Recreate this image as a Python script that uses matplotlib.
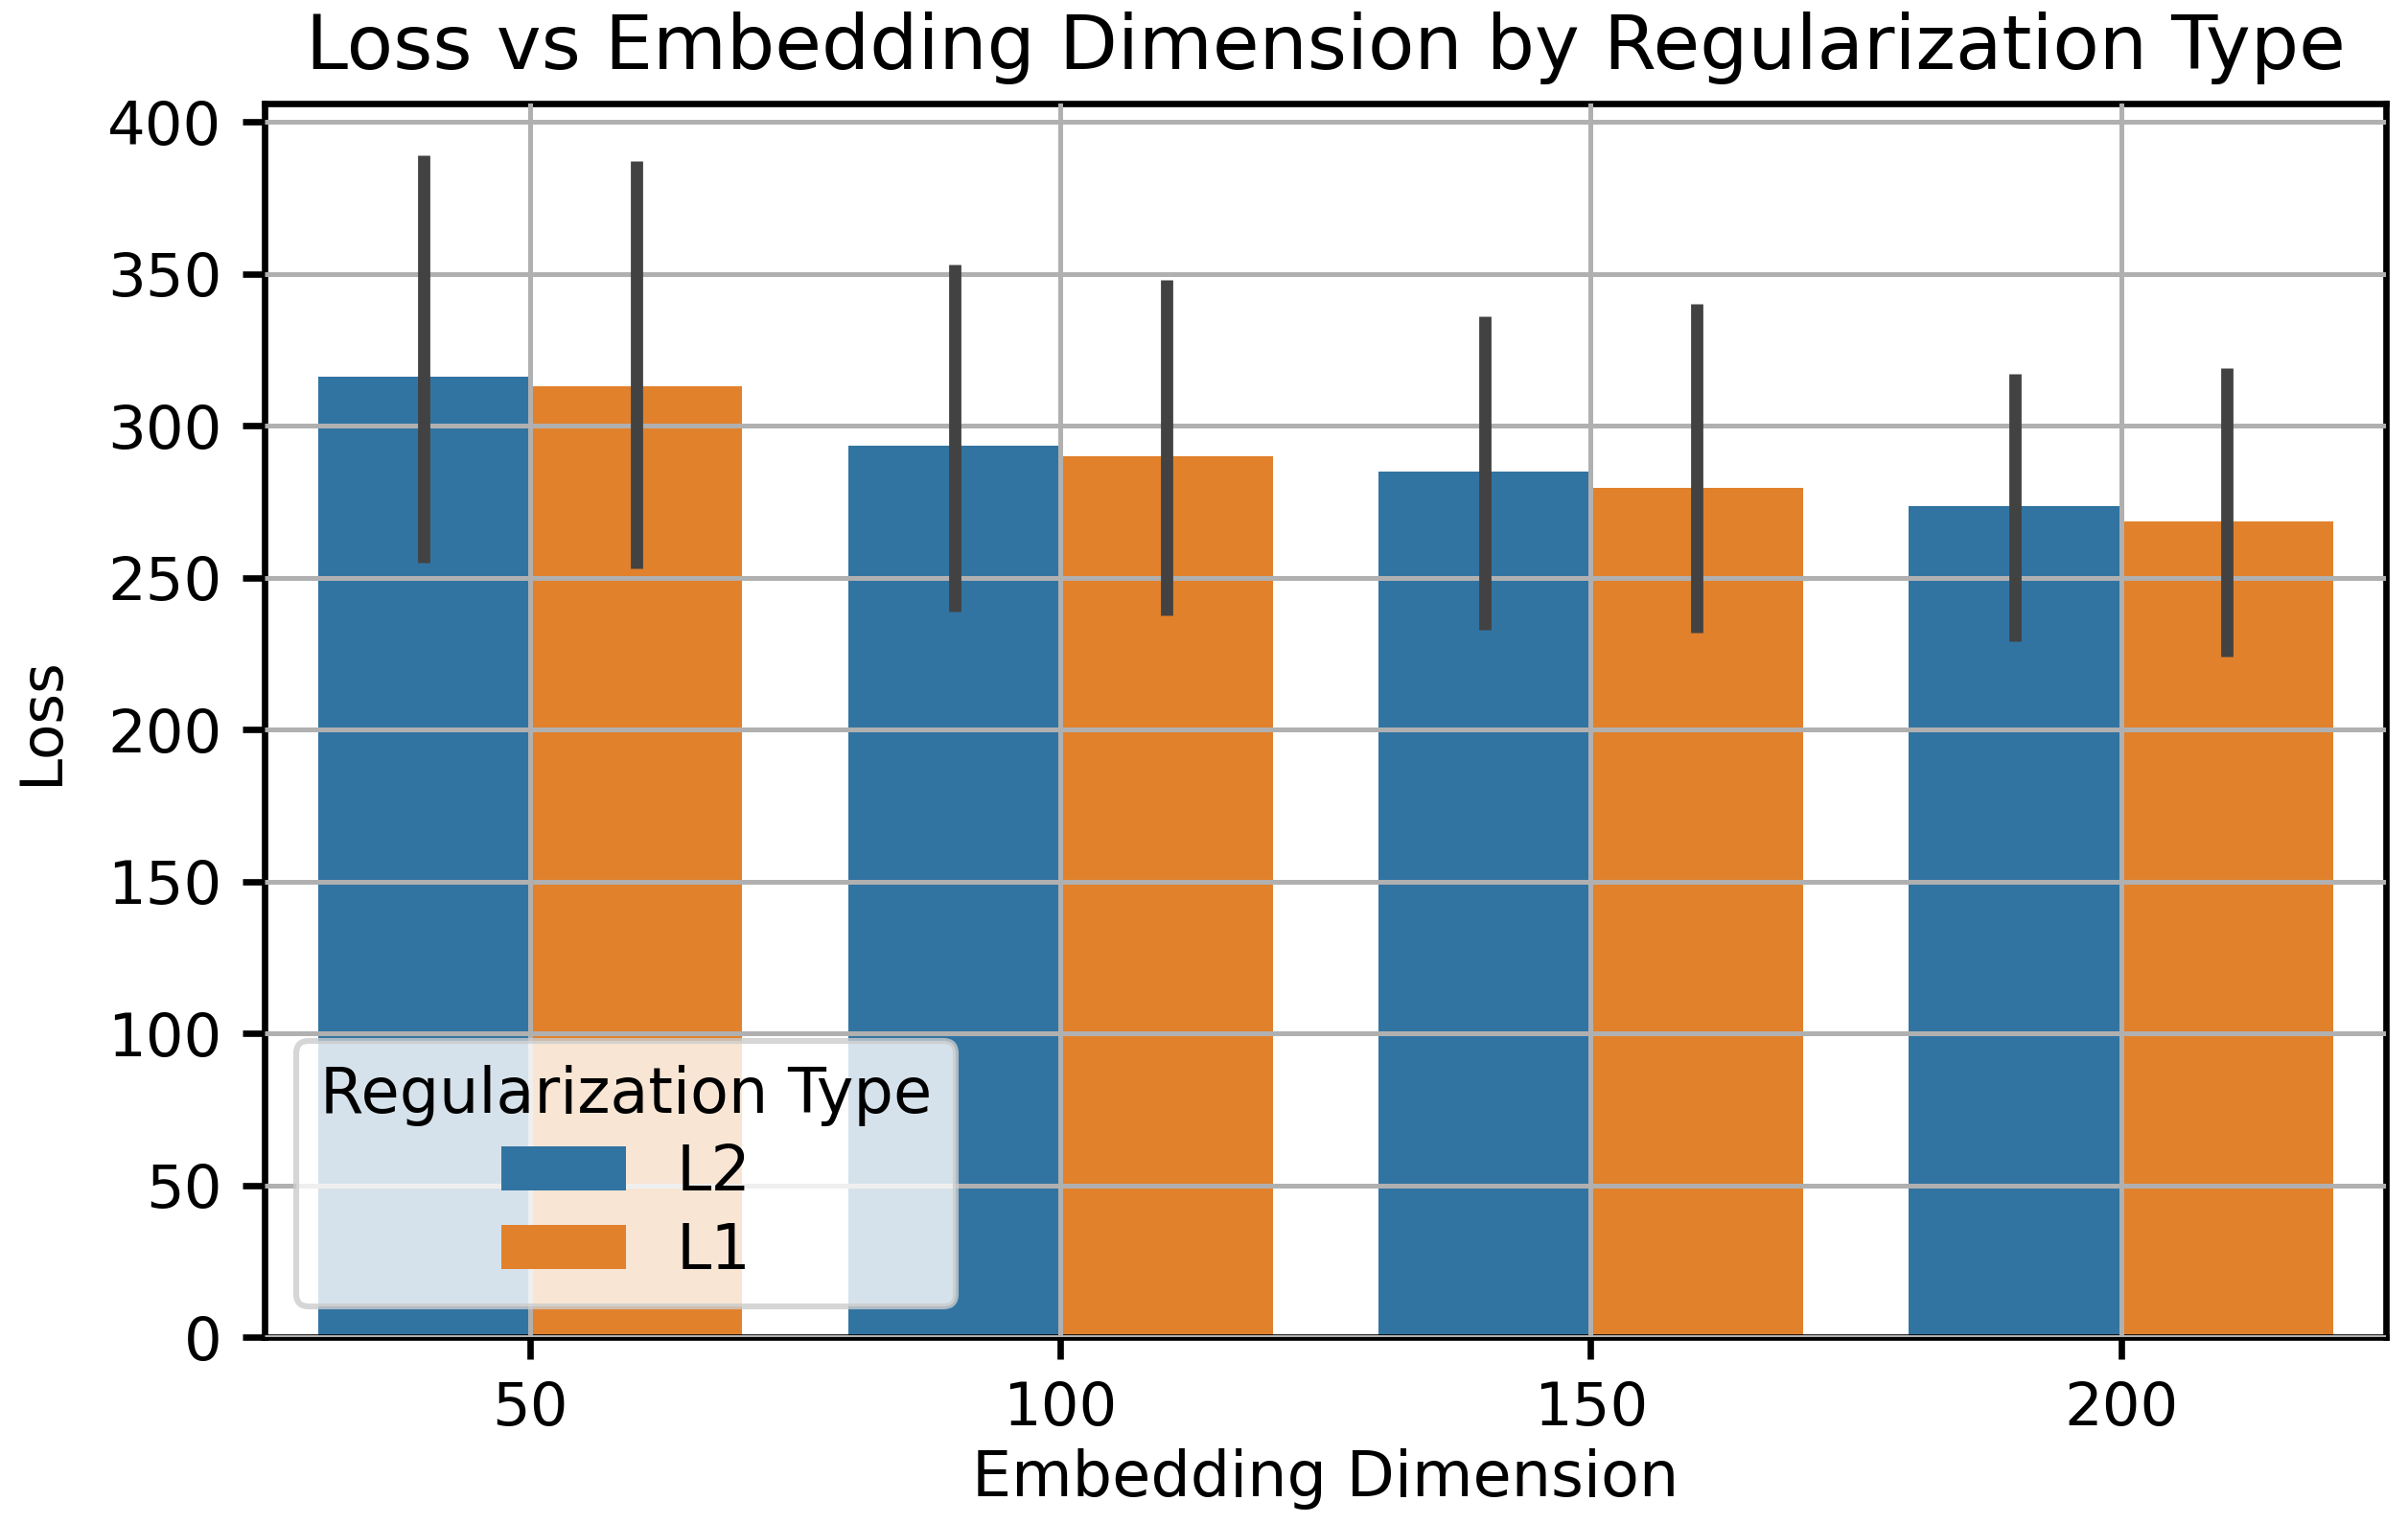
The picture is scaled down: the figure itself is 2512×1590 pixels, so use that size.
import numpy as np
import matplotlib.pyplot as plt

# datos
dimensiones = ['50', '100', '150', '200']
tipos = ['L2', 'L1']
loss_l2 = [316, 293.5, 285, 273.5]
loss_l1 = [313, 290, 279.5, 268.5]
ic_bajo_l2 = [255, 239, 233, 229]
ic_alto_l2 = [389, 353, 336, 317]
ic_bajo_l1 = [253, 237.5, 232, 224]
ic_alto_l1 = [387, 348, 340, 319]

colores = ['#3274a1', '#e1812c']

fig = plt.figure(figsize=(12.56, 7.95), dpi=200)
ax = fig.add_axes([0.110, 0.1225, 0.881, 0.8095])

x = np.arange(len(dimensiones))
ancho = 0.4
series = [(loss_l2, ic_bajo_l2, ic_alto_l2), (loss_l1, ic_bajo_l1, ic_alto_l1)]
for i, (valores, bajo, alto) in enumerate(series):
	pos = x - ancho / 2 + i * ancho
	ax.bar(pos, valores, width=ancho, color=colores[i], label=tipos[i], zorder=1)
	ax.vlines(pos, bajo, alto, color='#424242', linewidth=4.6, zorder=3)

ax.set_xlim(-0.5, len(dimensiones) - 0.5)
ax.set_ylim(0, 406)
ax.set_xticks(x)
ax.set_xticklabels(dimensiones)
ax.set_yticks(np.arange(0, 401, 50))

ax.set_axisbelow(False)
ax.grid(True, color='#b0b0b0', linewidth=1.8)
for lado in ax.spines.values():
	lado.set_color('black')
	lado.set_linewidth(2.4)
ax.tick_params(axis='both', labelsize=22.5, length=8.2, width=2.4, pad=8, color='black')

ax.set_title('Loss vs Embedding Dimension by Regularization Type', fontsize=28.5, pad=13)
ax.set_xlabel('Embedding Dimension', fontsize=23.5, labelpad=4)
ax.set_ylabel('Loss', fontsize=22, labelpad=14)

leg = ax.legend(title='Regularization Type', loc='lower left', fontsize=23.5,
				title_fontsize=23.5, framealpha=0.8, fancybox=True,
				labelspacing=0.27, borderpad=0.38)
leg.get_frame().set_edgecolor('#cccccc')
leg.get_frame().set_linewidth(2.2)
leg.set_zorder(5)

fig.savefig('out.png', dpi=200)
